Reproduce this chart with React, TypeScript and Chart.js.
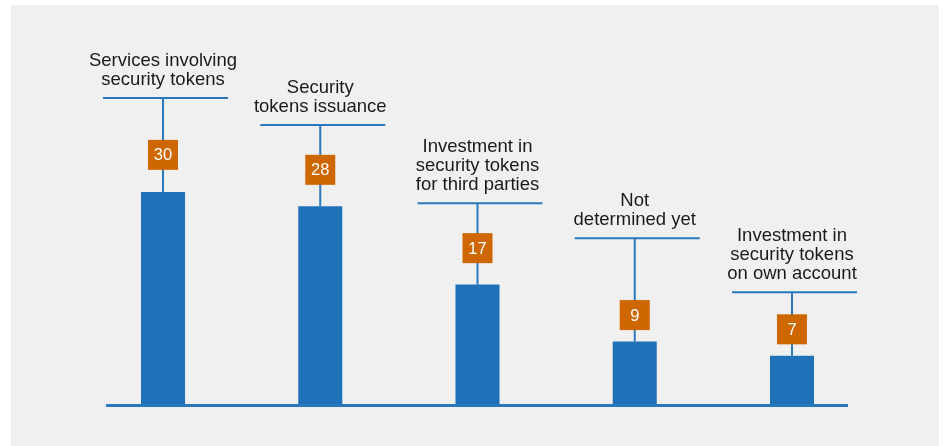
import React, { useEffect, useRef } from "react";
import { Chart, registerables } from "chart.js";

Chart.register(...registerables);

const categories: string[][] = [
  ["Services involving", "security tokens"],
  ["Security", "tokens issuance"],
  ["Investment in", "security tokens", "for third parties"],
  ["Not", "determined yet"],
  ["Investment in", "security tokens", "on own account"],
];
const values: number[] = [30, 28, 17, 9, 7];
// level (in value units) of the horizontal rule under each label
const labelLineLevels: number[] = [43.2, 39.4, 28.4, 23.5, 15.9];
// level (in value units) of the centre of each value box
const boxLevels: number[] = [35.2, 33.1, 22.1, 12.7, 10.7];

const BLUE = "#1f71b8";
const LINE_BLUE = "#2a78bd";
const ORANGE = "#cf6700";
const FONT = '"Liberation Sans", Arial, Helvetica, sans-serif';

const annotatePlugin = {
  id: "annotate",
  afterDatasetsDraw(chart: any) {
    const ctx: CanvasRenderingContext2D = chart.ctx;
    const meta = chart.getDatasetMeta(0);
    const y = chart.scales.y;
    const zeroY = y.getPixelForValue(0);
    ctx.save();
    // baseline
    const first = meta.data[0].x;
    const last = meta.data[meta.data.length - 1].x;
    ctx.strokeStyle = LINE_BLUE;
    ctx.lineWidth = 3;
    ctx.beginPath();
    ctx.moveTo(first - 57, zeroY);
    ctx.lineTo(last + 56, zeroY);
    ctx.stroke();

    meta.data.forEach((bar: any, i: number) => {
      const cx = bar.x;
      const top = bar.y;
      const lineY = y.getPixelForValue(labelLineLevels[i]);
      const boxY = y.getPixelForValue(boxLevels[i]);
      ctx.strokeStyle = LINE_BLUE;
      ctx.lineWidth = 2;
      // vertical leader
      ctx.beginPath();
      ctx.moveTo(cx, top);
      ctx.lineTo(cx, lineY);
      ctx.stroke();
      // horizontal rule
      ctx.beginPath();
      ctx.moveTo(cx - 60, lineY);
      ctx.lineTo(cx + 65, lineY);
      ctx.stroke();
      // value box
      ctx.fillStyle = ORANGE;
      ctx.fillRect(cx - 15, boxY - 15, 30, 30);
      ctx.fillStyle = "#ffffff";
      ctx.font = `16.5px ${FONT}`;
      ctx.textAlign = "center";
      ctx.textBaseline = "middle";
      ctx.fillText(String(values[i]), cx, boxY + 1);
      // label
      ctx.fillStyle = "#1a1a1a";
      ctx.font = `18.5px ${FONT}`;
      ctx.textBaseline = "alphabetic";
      const lines = categories[i];
      lines.forEach((t, j) => {
        const by = lineY - 13 - (lines.length - 1 - j) * 19;
        ctx.fillText(t, cx, by);
      });
    });
    ctx.restore();
  },
};

export default function App() {
  const ref = useRef<HTMLCanvasElement | null>(null);
  useEffect(() => {
    if (!ref.current) return;
    const chart = new Chart(ref.current, {
      type: "bar",
      data: {
        labels: categories.map((c) => c.join(" ")),
        datasets: [
          {
            data: values,
            backgroundColor: BLUE,
            borderWidth: 0,
            barPercentage: 0.28,
            categoryPercentage: 1,
          },
        ],
      },
      options: {
        animation: false,
        responsive: false,
        devicePixelRatio: 1,
        layout: { padding: { left: 73.4, right: 68.4, top: 44.5, bottom: 40.5 } },
        plugins: { legend: { display: false }, tooltip: { enabled: false } },
        scales: {
          x: { display: false, grid: { display: false } },
          y: { display: false, min: 0, max: 50, grid: { display: false } },
        },
      },
      plugins: [annotatePlugin],
    });
    return () => chart.destroy();
  }, []);
  return (
    <div style={{ position: "absolute", left: 0, top: 0, width: 943, height: 446, background: "#ffffff", overflow: "hidden" }}>
      <div style={{ position: "absolute", left: 11, top: 5, width: 928, height: 441, background: "#f0f0f0" }}>
        <canvas ref={ref} width={928} height={441} style={{ display: "block" }} />
      </div>
    </div>
  );
}
